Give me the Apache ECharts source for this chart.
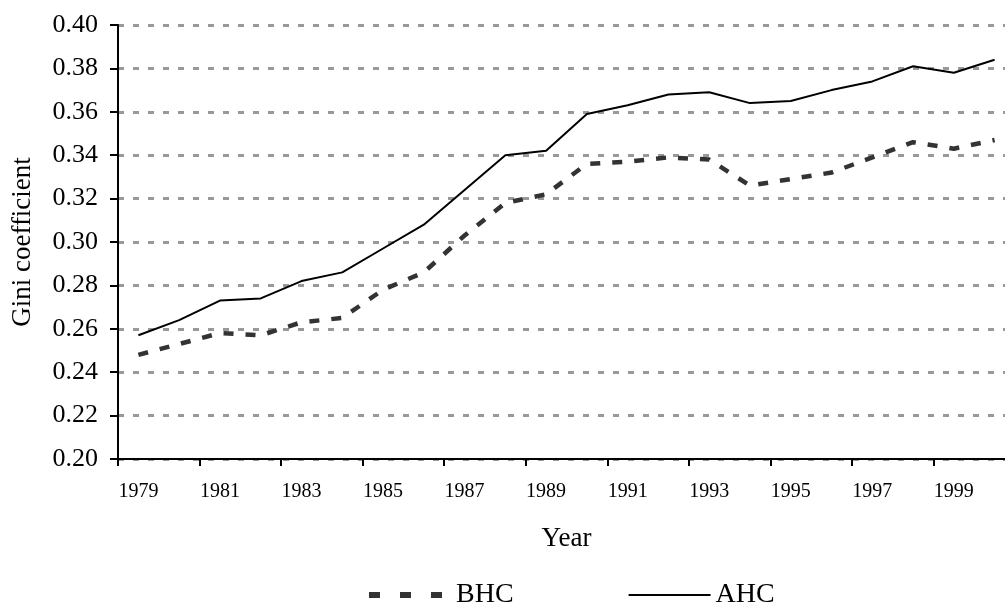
<!DOCTYPE html>
<html>
<head>
<meta charset="utf-8">
<script src="https://cdn.jsdelivr.net/npm/echarts@6/dist/echarts.min.js"></script>
<style>
  html, body { margin: 0; padding: 0; background: #fff; }
  #chart { width: 1005px; height: 606px; }
</style>
</head>
<body>
<div id="chart"></div>
<script>
var years = ['1979', '1980', '1981', '1982', '1983', '1984', '1985', '1986', '1987', '1988', '1989',
  '1990', '1991', '1992', '1993', '1994', '1995', '1996', '1997', '1998', '1999', '2000']
var bhc = [0.248, 0.253, 0.258, 0.257, 0.263, 0.265, 0.278, 0.286, 0.303, 0.318, 0.322,
  0.336, 0.337, 0.339, 0.338, 0.326, 0.329, 0.332, 0.339, 0.346, 0.343, 0.347]
var ahc = [0.257, 0.264, 0.273, 0.274, 0.282, 0.286, 0.297, 0.308, 0.324, 0.340, 0.342,
  0.359, 0.363, 0.368, 0.369, 0.364, 0.365, 0.370, 0.374, 0.381, 0.378, 0.384]

var font = '"Liberation Serif", "Times New Roman", serif'
var chart = echarts.init(document.getElementById('chart'))
chart.setOption({
  animation: false,
  textStyle: { fontFamily: font, color: '#000' },
  // plot runs past the right edge, like the source image
  grid: { left: 118, top: 25, width: 897, height: 434, outerBoundsMode: 'none', containLabel: false },
  legend: {
    top: 581,
    left: 366,
    padding: 0,
    itemGap: 114,
    itemWidth: 82,
    itemHeight: 14,
    itemStyle: { opacity: 0 }, // hide the dot, keep the line
    textStyle: { fontFamily: font, fontSize: 28, color: '#000' },
    data: [
      { name: 'BHC', lineStyle: { type: [11, 20], width: 6, color: '#333' } },
      { name: 'AHC', lineStyle: { type: 'solid', width: 2, color: '#000' } }
    ]
  },
  xAxis: {
    type: 'category',
    data: years,
    boundaryGap: true,
    name: 'Year',
    nameLocation: 'middle',
    nameGap: 66,
    nameTextStyle: { fontFamily: font, fontSize: 27, color: '#000' },
    axisLine: { lineStyle: { color: '#000', width: 2 } },
    axisTick: { show: true, length: 7, lineStyle: { color: '#000', width: 2 } },
    axisLabel: { interval: 1, fontSize: 20, color: '#000', margin: 23 },
    splitLine: { show: false }
  },
  yAxis: {
    type: 'value',
    min: 0.2,
    max: 0.4,
    interval: 0.02,
    name: 'Gini coefficient',
    nameLocation: 'middle',
    nameGap: 82,
    nameTextStyle: { fontFamily: font, fontSize: 27, color: '#000' },
    axisLine: { show: true, lineStyle: { color: '#000', width: 2 } },
    axisTick: { show: true, length: 8, lineStyle: { color: '#000', width: 2 } },
    axisLabel: {
      fontSize: 26,
      color: '#000',
      margin: 20,
      formatter: function (v) { return v.toFixed(2) }
    },
    splitLine: { lineStyle: { color: '#999', width: 3, type: [6, 9] } }
  },
  series: [
    {
      name: 'BHC',
      type: 'line',
      data: bhc,
      symbol: 'none',
      lineStyle: { color: '#333', width: 4.5, type: [10, 12] },
      itemStyle: { color: '#333' }
    },
    {
      name: 'AHC',
      type: 'line',
      data: ahc,
      symbol: 'none',
      lineStyle: { color: '#000', width: 2 },
      itemStyle: { color: '#000' }
    }
  ]
})
</script>
</body>
</html>
